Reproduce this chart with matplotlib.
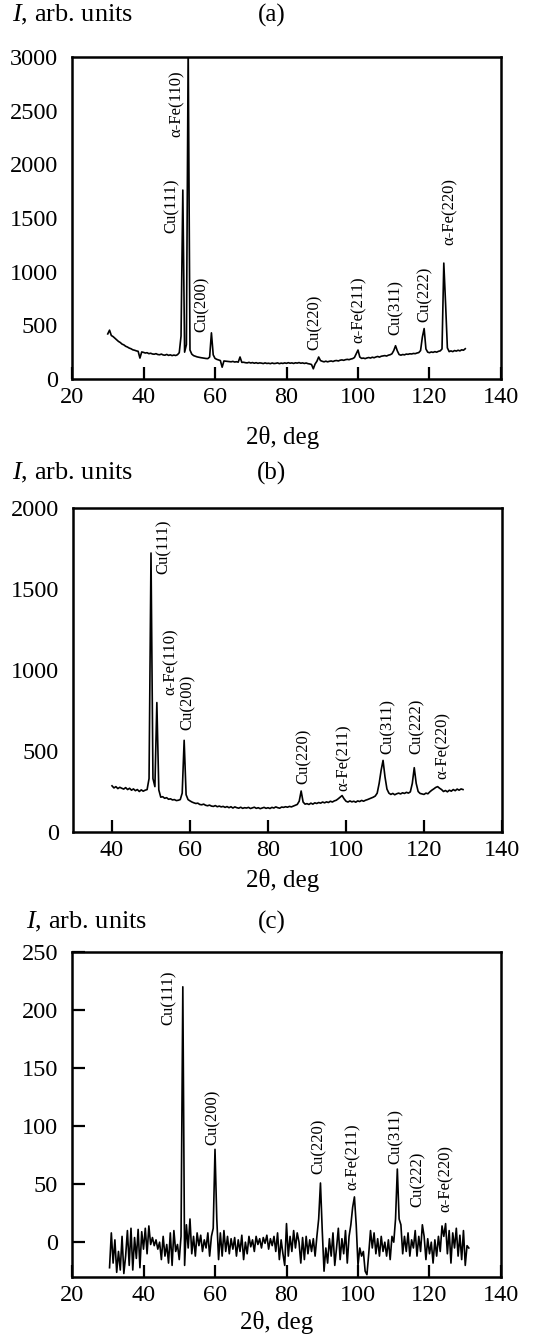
import numpy as np
import matplotlib
matplotlib.use('Agg')
import matplotlib.pyplot as plt

# XRD patterns, scan step 0.5 deg
step = 0.5

start_a = 30.0
I_a = [420, 455, 405, 395, 380, 365, 350, 340, 325, 318,
       305, 298, 288, 282, 272, 268, 262, 258, 195, 252,
       248, 242, 245, 236, 240, 233, 231, 236, 228, 226,
       232, 224, 222, 229, 220, 225, 218, 223, 219, 226,
       245, 400, 1760, 250, 320, 3100, 270, 232, 218, 212,
       206, 202, 199, 196, 193, 191, 190, 205, 430, 225,
       192, 183, 178, 172, 110, 168, 166, 164, 163, 160,
       164, 158, 161, 157, 205, 155, 156, 152, 150, 155,
       149, 153, 147, 152, 146, 150, 148, 144, 150, 145,
       147, 143, 149, 144, 146, 150, 143, 148, 145, 150,
       146, 152, 147, 150, 145, 151, 148, 153, 147, 150,
       145, 149, 143, 140, 135, 95, 140, 165, 205, 172,
       165, 160, 166, 160, 165, 168, 163, 170, 172, 168,
       175, 178, 174, 180, 183, 180, 186, 190, 200, 235,
       270, 205, 192, 195, 190, 196, 200, 195, 203, 198,
       205, 210, 204, 212, 215, 218, 214, 222, 226, 235,
       265, 310, 262, 228, 222, 228, 225, 232, 230, 235,
       233, 238, 236, 242, 246, 265, 390, 470, 280, 250,
       245, 252, 248, 255, 250, 258, 262, 280, 1080, 700,
       290, 255, 262, 255, 265, 260, 268, 262, 272, 268,
       282]

start_b = 40.0
I_b = [285, 272, 280, 268, 276, 270, 265, 274, 262, 270,
       258, 266, 255, 262, 250, 260, 252, 258, 262, 330,
       1722, 330, 280, 799, 260, 215, 218, 208, 212, 202,
       205, 198, 200, 194, 196, 200, 240, 566, 230, 200,
       192, 185, 180, 176, 178, 170, 168, 172, 165, 162,
       166, 160, 158, 163, 156, 160, 155, 158, 152, 157,
       150, 156, 148, 155, 150, 147, 153, 146, 150, 148,
       152, 145, 149, 153, 146, 150, 144, 148, 152, 146,
       150, 145, 152, 148, 155, 150, 147, 154, 152, 156,
       153, 158, 155, 160, 165, 170, 190, 253, 185, 172,
       175, 170, 178, 172, 180, 176, 182, 178, 185, 180,
       186, 182, 190, 185, 192, 196, 205, 215, 225, 205,
       190, 185, 192, 186, 190, 184, 192, 188, 195, 190,
       196, 200, 205, 210, 215, 222, 240, 300, 380, 442,
       340, 265, 240, 232, 238, 230, 236, 240, 235, 242,
       238, 245, 240, 248, 300, 397, 300, 250, 238, 235,
       232, 240, 236, 248, 258, 266, 275, 280, 270, 262,
       250, 256, 248, 258, 252, 262, 255, 265, 258, 266,
       262]

start_c = 30.5
I_c = [-22, 8, -18, 2, -26, -8, -24, 5, -27, -12,
       10, -20, 12, -24, 4, -14, 11, -22, 9, -6,
       12, -10, 14, -2, 4, -3, 2, -6, 0, -15,
       5, -12, -2, -18, 8, -20, 10, -8, -2, -15,
       5, 220, -20, 15, -5, 20, -10, 5, -12, 8,
       -3, 6, -8, 2, -5, 8, -12, 5, 12, 80,
       20, -15, 8, -12, 10, -8, 5, -10, 3, -6,
       4, -12, 2, -8, 6, -15, 0, -10, 5, -4,
       2, -8, 5, -2, 3, -5, 4, -1, 6, -6,
       3, -3, 5, -8, 8, -15, 2, -10, -20, 16,
       -12, 5, -8, 10, -5, 8, 0, -18, 4, -15,
       5, -10, 2, -8, 3, -12, 5, 20, 51, 10,
       -25, -5, -18, 3, -12, 8, -20, -5, 12, -15,
       3, -10, 10, -18, 5, 15, 30, 39, 15, -20,
       -5, -12, -8, -25, -28, -10, 10, -5, 8, -10,
       3, -12, 5, -8, 0, -12, 2, -15, 5, 0,
       20, 63, 20, 15, -10, 5, -8, 8, -12, 2,
       -5, 10, -12, 5, -8, 15, 5, -15, 3, -10,
       0, -18, 2, -12, 5, -8, 14, 5, 16, -10,
       10, -18, 8, -5, 12, -12, 6, -15, 10, -20,
       -3, -5]

# peak labels: text, 2theta, intensity at the label's lower end
lab_a = ['Cu(111)', 'α-Fe(110)', 'Cu(200)', 'Cu(220)', 'α-Fe(211)', 'Cu(311)', 'Cu(222)', 'α-Fe(220)']
lab_a_x = [47.9, 49.3, 56.4, 88.0, 100.3, 110.6, 118.7, 125.6]
lab_a_y = [1360, 2255, 440, 270, 335, 410, 534, 1250]

lab_b = ['Cu(111)', 'α-Fe(110)', 'Cu(200)', 'Cu(220)', 'α-Fe(211)', 'Cu(311)', 'Cu(222)', 'α-Fe(220)']
lab_b_x = [53.2, 55.0, 59.3, 89.1, 99.3, 110.7, 118.1, 124.8]
lab_b_y = [1595, 844, 628, 294, 253, 480, 480, 330]

lab_c = ['Cu(111)', 'Cu(200)', 'Cu(220)', 'α-Fe(211)', 'Cu(311)', 'Cu(222)', 'α-Fe(220)']
lab_c_x = [47.1, 59.5, 89.1, 98.4, 110.5, 116.7, 124.6]
lab_c_y = [187, 84, 58.6, 45, 67, 30, 26]

plt.rcParams['font.family'] = ['Liberation Serif', 'DejaVu Serif']
plt.rcParams['mathtext.fontset'] = 'custom'
plt.rcParams['mathtext.rm'] = 'Liberation Serif'
plt.rcParams['mathtext.it'] = 'Liberation Serif:italic'

W, H = 534, 1340
fig = plt.figure(figsize=(W / 100, H / 100), dpi=100)


def px(x, y):
    return x / W, 1 - y / H


panels = [
    # tag, start, data, labels, xlim, ylim, xticks, yticks, axes box (px), ytick length,
    # y-label pos, tag pos, x-label pos
    ('(a)', start_a, I_a, (lab_a, lab_a_x, lab_a_y), (20, 140), (0, 3000), range(20, 141, 20),
     range(0, 3001, 500), (72, 57, 501, 379), 0, (12, 15), (272, 15), (283, 437)),
    ('(b)', start_b, I_b, (lab_b, lab_b_x, lab_b_y), (30, 140), (0, 2000), range(40, 141, 20),
     range(0, 2001, 500), (73, 508, 502, 832), 0, (12, 473), (272, 473), (283, 881)),
    ('(c)', start_c, I_c, (lab_c, lab_c_x, lab_c_y), (20, 140), (-30, 250), range(20, 141, 20),
     range(0, 251, 50), (72, 952, 501, 1277), 9, (26, 922), (272, 922), (277, 1323)),
]

for tag, start, I, labs, xl, yl, xt, yt, box, ytl, ylab, tagpos, xlab in panels:
    x0, y0, x1, y1 = box
    ax = fig.add_axes([x0 / W, 1 - y1 / H, (x1 - x0) / W, (y1 - y0) / H])
    tth = start + step * np.arange(len(I))
    ax.plot(tth, I, color='black', lw=1.2)
    ax.set_xlim(*xl)
    ax.set_ylim(*yl)
    ax.set_xticks(list(xt))
    ax.set_yticks(list(yt))
    ax.tick_params(axis='x', direction='in', length=9, width=1.6, labelsize=17.5, pad=6)
    ax.tick_params(axis='y', direction='in', length=ytl, width=1.6, labelsize=17.5, pad=10)
    for s in ax.spines.values():
        s.set_linewidth(1.8)
    for t, lx, ly in zip(*labs):
        ax.text(lx, ly, t, rotation=90, ha='center', va='bottom', fontsize=12)
    fig.text(*px(*ylab), '$I$, arb. units', ha='left', va='center', fontsize=19)
    fig.text(*px(*tagpos), tag, ha='center', va='center', fontsize=18)
    fig.text(*px(*xlab), '2θ, deg', ha='center', va='center', fontsize=18)

fig.savefig('out.png', dpi=100)
